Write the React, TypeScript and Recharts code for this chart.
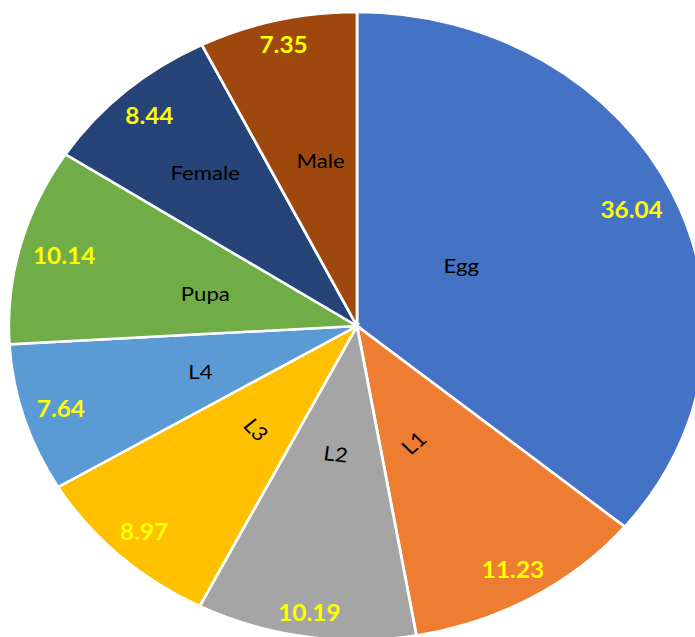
import React from 'react'
import { PieChart, Pie, Cell } from 'recharts'

// Share of each life stage (%)
const stages = ['Egg', 'L1', 'L2', 'L3', 'L4', 'Pupa', 'Female', 'Male']
const shares = [36.04, 11.23, 10.19, 8.97, 7.64, 10.14, 8.44, 7.35]
const colors = ['#4472C4', '#ED7D31', '#A5A5A5', '#FFC000', '#5B9BD5', '#70AD47', '#264478', '#9E480E']

const data = stages.map((name, i) => ({ name, value: shares[i] }))

// the pie is drawn as a circle, then widened into an ellipse
const STRETCH = 1.109
const W = 630
const H = 637
const CX = 357 / STRETCH
const CY = 326
const R = 314
const RAD = Math.PI / 180
const FONT = 'Lato, "Open Sans", sans-serif'
const VALUE_SIZE = 22

// where the stage name sits: fraction of radius, clockwise shift (deg), tilt (deg)
const nameSpot: Record<string, { r: number; da: number; rot: number }> = {
  Egg: { r: 0.357, da: -7.9, rot: 0 },
  L1: { r: 0.404, da: 6.5, rot: -43 },
  L2: { r: 0.41, da: 0, rot: 7 },
  L3: { r: 0.437, da: -1.8, rot: 48 },
  L4: { r: 0.472, da: -0.6, rot: 0 },
  Pupa: { r: 0.448, da: -1.3, rot: 0 },
  Female: { r: 0.656, da: 0, rot: 0 },
  Male: { r: 0.54, da: 2.1, rot: 0 },
}

const renderLabel = (props: any) => {
  const { cx, cy, midAngle, outerRadius, name, value } = props
  const txt = value.toFixed(2)
  // value sits "inside end": its box just clears the rim
  const halfW = ((txt.length - 1) * 0.58 + 0.26) * VALUE_SIZE / 2
  const halfH = 9
  const ux = Math.cos(-midAngle * RAD)
  const uy = Math.sin(-midAngle * RAD)
  const vr = outerRadius - 11 - (Math.abs(ux) * halfW + Math.abs(uy) * halfH)
  const vx = cx + vr * ux
  const vy = cy + vr * uy
  const spot = nameSpot[name] ?? { r: 0.45, da: 0, rot: 0 }
  const a = midAngle - spot.da
  const nr = outerRadius * spot.r
  const nx = cx + nr * Math.cos(-a * RAD)
  const ny = cy + nr * Math.sin(-a * RAD)
  return (
    <g>
      <text
        x={vx}
        y={vy}
        textAnchor="middle"
        dominantBaseline="central"
        fill="#FFFF00"
        fontSize={VALUE_SIZE}
        fontWeight="bold"
        fontFamily={FONT}
      >
        {txt}
      </text>
      <text
        x={nx}
        y={ny}
        textAnchor="middle"
        dominantBaseline="central"
        fill="#000"
        fontSize={20}
        fontFamily={FONT}
        transform={spot.rot ? `rotate(${spot.rot} ${nx} ${ny})` : undefined}
      >
        {name}
      </text>
    </g>
  )
}

export default function App() {
  return (
    <div style={{ position: 'fixed', left: 0, top: 0, width: 695, height: 637, overflow: 'hidden', background: '#fff' }}>
      <div style={{ width: W, height: H, transform: `scaleX(${STRETCH})`, transformOrigin: '0 0' }}>
        <PieChart width={W} height={H} margin={{ top: 0, right: 0, bottom: 0, left: 0 }}>
          <Pie
            data={data}
            dataKey="value"
            nameKey="name"
            cx={CX}
            cy={CY}
            outerRadius={R}
            startAngle={90}
            endAngle={-270}
            stroke="#fff"
            strokeWidth={2.5}
            label={renderLabel}
            labelLine={false}
            isAnimationActive={false}
          >
            {data.map((d, i) => (
              <Cell key={d.name} fill={colors[i]} />
            ))}
          </Pie>
        </PieChart>
      </div>
    </div>
  )
}
